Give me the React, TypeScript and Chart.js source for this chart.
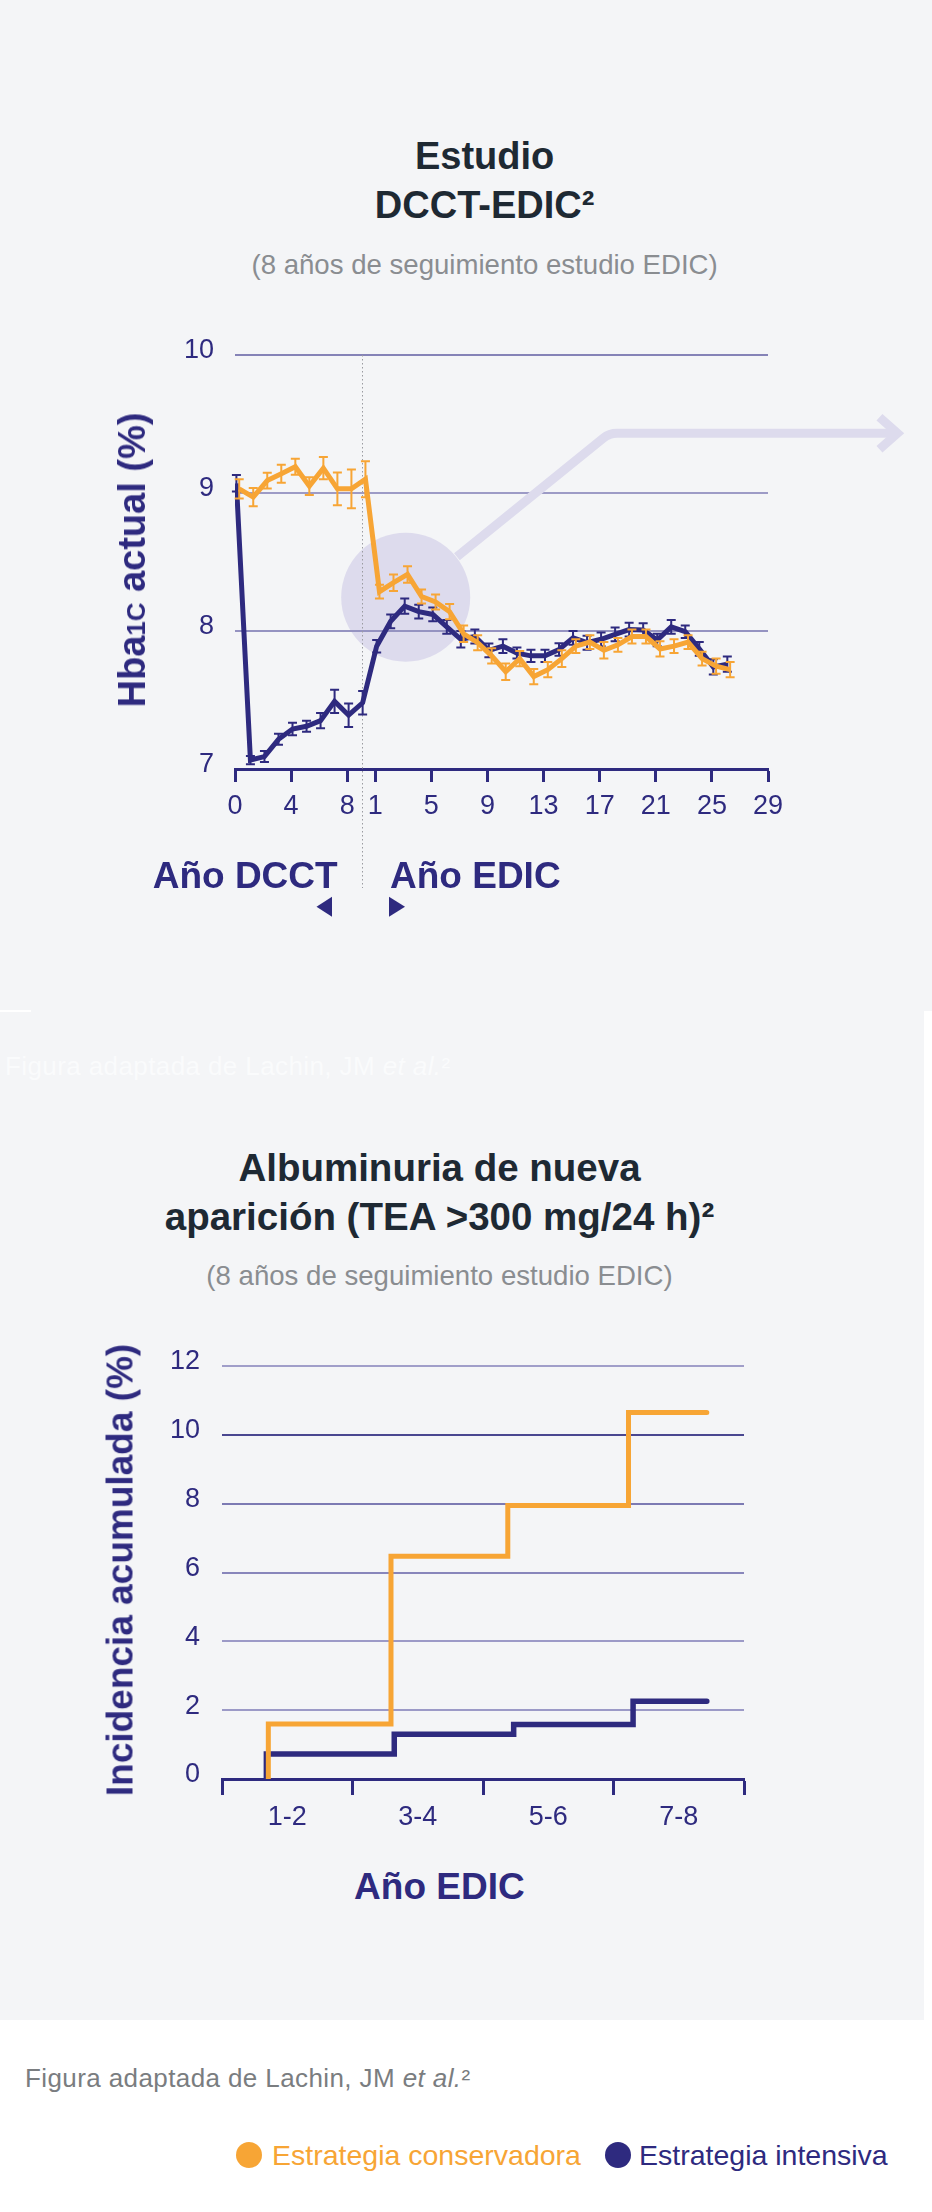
import React, { useEffect, useRef } from 'react';
import { Chart, registerables } from 'chart.js';

Chart.register(...registerables);

if (typeof document !== 'undefined') {
  document.body.style.margin = '0';
}

const ORANGE = '#F7A535';
const NAVY = '#2E2A7F';
const HIGHLIGHT = '#DDDBED';
const FONT = 'Liberation Sans, Arial, sans-serif';

// ---------- Top chart: HbA1c ----------
const dcctYears = [0, 1, 2, 3, 4, 5, 6, 7, 8, 9];
const edicYears = [1, 2, 3, 4, 5, 6, 7, 8, 9, 10, 11, 12, 13, 14, 15, 16, 17, 18, 19, 20, 21, 22, 23, 24, 25, 26];

const intensiveDcct = [9.07, 7.065, 7.09, 7.215, 7.29, 7.31, 7.35, 7.49, 7.39, 7.48];
const intensiveDcctErr = [0.06, 0.03, 0.04, 0.04, 0.045, 0.04, 0.055, 0.085, 0.085, 0.085];
const conservativeDcct = [9.03, 8.97, 9.09, 9.14, 9.19, 9.05, 9.18, 9.03, 9.03, 9.1];
const conservativeDcctErr = [0.07, 0.066, 0.057, 0.065, 0.058, 0.065, 0.08, 0.118, 0.14, 0.13];

const intensiveEdic = [7.89, 8.07, 8.18, 8.14, 8.12, 8.03, 7.94, 7.96, 7.86, 7.89, 7.84, 7.82, 7.82, 7.866, 7.95, 7.915, 7.94, 7.976, 8.01, 8.007, 7.935, 8.03, 7.995, 7.87, 7.74, 7.76];
const intensiveEdicErr = [0.045, 0.05, 0.055, 0.05, 0.05, 0.05, 0.06, 0.05, 0.05, 0.05, 0.04, 0.045, 0.045, 0.045, 0.05, 0.05, 0.05, 0.05, 0.05, 0.05, 0.045, 0.05, 0.045, 0.05, 0.055, 0.055];
const conservativeEdic = [8.285, 8.35, 8.41, 8.25, 8.21, 8.14, 7.98, 7.915, 7.82, 7.705, 7.8, 7.67, 7.72, 7.8, 7.89, 7.92, 7.86, 7.9, 7.96, 7.96, 7.87, 7.89, 7.92, 7.8, 7.745, 7.72];
const conservativeEdicErr = [0.05, 0.06, 0.06, 0.05, 0.055, 0.055, 0.06, 0.055, 0.055, 0.06, 0.055, 0.055, 0.055, 0.06, 0.05, 0.05, 0.06, 0.05, 0.05, 0.05, 0.055, 0.05, 0.05, 0.05, 0.055, 0.055];

const dcctTickLabels = [0, 4, 8];
const edicTickLabels = [1, 5, 9, 13, 17, 21, 25, 29];
const hbaTicks = [7, 8, 9, 10];

// axis mapping: DCCT year t -> t, EDIC year e -> EDIC_SHIFT + e (one blank year between)
const EDIC_SHIFT = 9;
const INTENSIVE_JITTER = 0.1;
const CONSERVATIVE_JITTER = 0.3;
const DIVIDER_POS = 9.07;

// ---------- Bottom chart: albuminuria ----------
const albCategories = ['1-2', '3-4', '5-6', '7-8'];
const albTicks = [0, 2, 4, 6, 8, 10, 12];
const conservativeStepYears = [0.71, 2.59, 4.38, 6.23];
const conservativeLevels = [1.6, 6.47, 7.95, 10.65];
const intensiveStepYears = [0.68, 2.64, 4.47, 6.3];
const intensiveLevels = [0.73, 1.3, 1.58, 2.26];
const followUpEnd = 7.43;

function seriesPoints(dcct: number[], edic: number[], jitter: number) {
  return [
    ...dcctYears.map((t, i) => ({ x: t + jitter, y: dcct[i] })),
    ...edicYears.map((e, i) => ({ x: EDIC_SHIFT + e + jitter, y: edic[i] })),
  ];
}

function stepPoints(times: number[], levels: number[]) {
  return [
    { x: times[0], y: 0 },
    ...times.map((t, i) => ({ x: t, y: levels[i] })),
    { x: followUpEnd, y: levels[levels.length - 1] },
  ];
}

const errorLists = [
  [...conservativeDcctErr, ...conservativeEdicErr],
  [...intensiveDcctErr, ...intensiveEdicErr],
];

const errorBarPlugin = {
  id: 'errorBars',
  afterDatasetDraw(chart: any, args: any) {
    const ds = chart.data.datasets[args.index];
    const errs = errorLists[args.index];
    if (!errs) return;
    const ctx = chart.ctx;
    const ys = chart.scales.y;
    ctx.save();
    ctx.strokeStyle = ds.borderColor;
    ctx.lineWidth = 2;
    args.meta.data.forEach((pt: any, i: number) => {
      const v = ds.data[i].y;
      const e = errs[i];
      const x = pt.x;
      const y1 = ys.getPixelForValue(v + e);
      const y2 = ys.getPixelForValue(v - e);
      ctx.beginPath();
      ctx.moveTo(x, y1);
      ctx.lineTo(x, y2);
      ctx.moveTo(x - 4.5, y1);
      ctx.lineTo(x + 4.5, y1);
      ctx.moveTo(x - 4.5, y2);
      ctx.lineTo(x + 4.5, y2);
      ctx.stroke();
    });
    ctx.restore();
  },
};

const highlightCenter = [12.17, 8.245];
const highlightRadius = 64.5;
const arrowPath = [
  [15.82, 8.538],
  [26.68, 9.433],
  [47.23, 9.433],
];

const topAnnotations = {
  id: 'topAnnotations',
  beforeDraw(chart: any) {
    const { ctx } = chart;
    const x = chart.scales.x;
    const y = chart.scales.y;
    ctx.save();
    ctx.fillStyle = HIGHLIGHT;
    ctx.beginPath();
    ctx.arc(x.getPixelForValue(highlightCenter[0]), y.getPixelForValue(highlightCenter[1]), highlightRadius, 0, Math.PI * 2);
    ctx.fill();
    ctx.restore();
  },
  beforeDatasetsDraw(chart: any) {
    const { ctx } = chart;
    const x = chart.scales.x;
    const y = chart.scales.y;
    const p = arrowPath.map(([a, b]) => [x.getPixelForValue(a), y.getPixelForValue(b)]);
    ctx.save();
    ctx.strokeStyle = HIGHLIGHT;
    ctx.lineWidth = 9;
    ctx.lineCap = 'butt';
    ctx.lineJoin = 'miter';
    ctx.beginPath();
    ctx.moveTo(p[0][0], p[0][1]);
    ctx.arcTo(p[1][0], p[1][1], p[2][0], p[2][1], 22);
    ctx.lineTo(p[2][0], p[2][1]);
    ctx.stroke();
    ctx.beginPath();
    ctx.moveTo(p[2][0] - 18, p[2][1] - 16);
    ctx.lineTo(p[2][0], p[2][1]);
    ctx.lineTo(p[2][0] - 18, p[2][1] + 16);
    ctx.stroke();
    // dotted divider between DCCT and EDIC
    const dx = Math.round(x.getPixelForValue(DIVIDER_POS)) + 0.5;
    ctx.strokeStyle = '#9A9BA0';
    ctx.lineWidth = 1;
    ctx.setLineDash([1.5, 2.5]);
    ctx.beginPath();
    ctx.moveTo(dx, y.getPixelForValue(10));
    ctx.lineTo(dx, chart.chartArea.bottom + 119);
    ctx.stroke();
    ctx.restore();
  },
};

const topGridColors: Record<number, string> = { 7: 'rgba(0,0,0,0)', 8: '#9593C1', 9: '#9D9BC6', 10: '#8583B7' };
const bottomGridColors: Record<number, string> = { 0: 'rgba(0,0,0,0)', 2: '#9C9AC7', 4: '#9C9AC7', 6: '#8886BB', 8: '#7C7AB3', 10: '#4A4790', 12: '#A09EC9' };

const tickFont = { family: FONT, size: 27 };

function HbaChart() {
  const ref = useRef<HTMLCanvasElement>(null);
  useEffect(() => {
    if (!ref.current) return;
    const chart = new Chart(ref.current, {
      type: 'line',
      data: {
        datasets: [
          {
            label: 'Estrategia conservadora',
            data: seriesPoints(conservativeDcct, conservativeEdic, CONSERVATIVE_JITTER),
            borderColor: ORANGE,
            backgroundColor: ORANGE,
            borderWidth: 5,
            pointRadius: 0,
            tension: 0,
            borderJoinStyle: 'miter',
          },
          {
            label: 'Estrategia intensiva',
            data: seriesPoints(intensiveDcct, intensiveEdic, INTENSIVE_JITTER),
            borderColor: NAVY,
            backgroundColor: NAVY,
            borderWidth: 5,
            pointRadius: 0,
            tension: 0,
            borderJoinStyle: 'miter',
          },
        ],
      },
      options: {
        animation: false,
        responsive: false,
        maintainAspectRatio: false,
        layout: { padding: { top: 55, right: 164, left: 0, bottom: 0 } },
        plugins: { legend: { display: false }, tooltip: { enabled: false } },
        scales: {
          x: {
            type: 'linear',
            min: 0,
            max: 38,
            afterBuildTicks: (s: any) => {
              s.ticks = [...dcctTickLabels, ...edicTickLabels.map((e) => EDIC_SHIFT + e)].map((v) => ({ value: v }));
            },
            afterFit: (s: any) => {
              s.height = 151;
            },
            grid: { drawOnChartArea: false, drawTicks: true, tickLength: 13, tickWidth: 3, tickColor: NAVY },
            border: { display: true, color: NAVY, width: 3 },
            ticks: {
              autoSkip: false,
              maxRotation: 0,
              padding: 8,
              color: NAVY,
              font: tickFont,
              callback: (v: any) => String(v <= 8 ? v : v - EDIC_SHIFT),
            },
          },
          y: {
            min: 7,
            max: 10,
            afterBuildTicks: (s: any) => {
              s.ticks = hbaTicks.map((v) => ({ value: v }));
            },
            afterFit: (s: any) => {
              s.width = 235;
            },
            grid: {
              drawTicks: false,
              lineWidth: 2,
              color: (c: any) => topGridColors[c.tick?.value] || '#9593C1',
            },
            border: { display: false },
            ticks: { padding: 21, labelOffset: -4, color: NAVY, font: tickFont },
          },
        },
      },
      plugins: [topAnnotations, errorBarPlugin],
    } as any);
    return () => chart.destroy();
  }, []);
  return (
    <canvas
      ref={ref}
      width={932}
      height={620}
      style={{ position: 'absolute', left: 0, top: 300, width: 932, height: 620 }}
    />
  );
}

function AlbChart() {
  const ref = useRef<HTMLCanvasElement>(null);
  useEffect(() => {
    if (!ref.current) return;
    const chart = new Chart(ref.current, {
      type: 'line',
      data: {
        datasets: [
          {
            label: 'Estrategia conservadora',
            data: stepPoints(conservativeStepYears, conservativeLevels),
            borderColor: ORANGE,
            borderWidth: 5,
            pointRadius: 0,
            stepped: 'before',
            borderCapStyle: 'round',
            borderJoinStyle: 'miter',
          },
          {
            label: 'Estrategia intensiva',
            data: stepPoints(intensiveStepYears, intensiveLevels),
            borderColor: NAVY,
            borderWidth: 5.5,
            pointRadius: 0,
            stepped: 'before',
            borderCapStyle: 'round',
            borderJoinStyle: 'miter',
          },
        ],
      },
      options: {
        animation: false,
        responsive: false,
        maintainAspectRatio: false,
        layout: { padding: { top: 66, right: 188, left: 0, bottom: 0 } },
        plugins: { legend: { display: false }, tooltip: { enabled: false } },
        scales: {
          x: {
            type: 'linear',
            min: 0,
            max: albCategories.length * 2,
            afterBuildTicks: (s: any) => {
              const t = [];
              for (let i = 0; i <= albCategories.length * 2; i++) t.push({ value: i });
              s.ticks = t;
            },
            afterFit: (s: any) => {
              s.height = 81;
            },
            grid: {
              drawOnChartArea: false,
              drawTicks: true,
              tickLength: 16,
              tickWidth: 3,
              tickColor: (c: any) => (c.tick && c.tick.value % 2 === 0 ? NAVY : 'rgba(0,0,0,0)'),
            },
            border: { display: true, color: NAVY, width: 3 },
            ticks: {
              autoSkip: false,
              maxRotation: 0,
              padding: 6,
              color: NAVY,
              font: tickFont,
              callback: (v: any) => (v % 2 === 1 ? albCategories[(v - 1) / 2] : ''),
            },
          },
          y: {
            min: 0,
            max: 12,
            afterBuildTicks: (s: any) => {
              s.ticks = albTicks.map((v) => ({ value: v }));
            },
            afterFit: (s: any) => {
              s.width = 222;
            },
            grid: {
              drawTicks: false,
              lineWidth: 2,
              color: (c: any) => bottomGridColors[c.tick?.value] || '#9C9AC7',
            },
            border: { display: false },
            ticks: { padding: 22, labelOffset: -4, color: NAVY, font: tickFont },
          },
        },
      },
    } as any);
    return () => chart.destroy();
  }, []);
  return (
    <canvas
      ref={ref}
      width={932}
      height={560}
      style={{ position: 'absolute', left: 0, top: 1300, width: 932, height: 560 }}
    />
  );
}

const abs = (s: React.CSSProperties): React.CSSProperties => ({ position: 'absolute', whiteSpace: 'nowrap', ...s });

export default function App() {
  useEffect(() => {
    document.body.style.margin = '0';
  }, []);
  return (
    <div style={{ position: 'relative', width: 932, height: 2212, background: '#FFFFFF', fontFamily: FONT, overflow: 'hidden' }}>
      <div style={abs({ left: 0, top: 0, width: 932, height: 1011, background: '#F4F5F7' })} />
      <div style={abs({ left: 0, top: 1011, width: 924, height: 1009, background: '#F4F5F7' })} />
      <div style={abs({ left: 0, top: 1010, width: 31, height: 2, background: '#FFFFFF' })} />

      {/* Top titles */}
      <div style={abs({ left: 484.6, top: 132.3, transform: 'translateX(-50%)', textAlign: 'center', fontSize: 38, fontWeight: 700, lineHeight: '49px', color: '#1E2933' })}>
        Estudio
        <br />
        DCCT-EDIC²
      </div>
      <div style={abs({ left: 484.6, top: 250.6, transform: 'translateX(-50%)', fontSize: 27.6, lineHeight: '27.6px', color: '#8A8D91' })}>
        (8 años de seguimiento estudio EDIC)
      </div>

      <HbaChart />

      <div style={abs({ left: 133.5, top: 559.5, transform: 'translate(-50%,-50%) rotate(-90deg)', fontSize: 38, fontWeight: 700, lineHeight: '38px', color: NAVY })}>
        Hba<span style={{ fontSize: '0.68em' }}>1C</span> actual (%)
      </div>

      <div style={abs({ left: 152.7, top: 857, fontSize: 37, fontWeight: 700, lineHeight: '37px', color: NAVY })}>Año DCCT</div>
      <div style={abs({ left: 390, top: 857, fontSize: 37, fontWeight: 700, lineHeight: '37px', color: NAVY })}>Año EDIC</div>
      <svg style={abs({ left: 0, top: 880, overflow: 'visible' })} width={932} height={60}>
        <polygon points="316.5,26.7 332,16.7 332,36.7" fill={NAVY} />
        <polygon points="405,26.7 389,16.7 389,36.7" fill={NAVY} />
      </svg>

      <div style={abs({ left: 5, top: 1053, fontSize: 26, lineHeight: '26px', color: '#FAFBFC', letterSpacing: 0.4 })}>
        Figura adaptada de Lachin, JM <i>et al.</i>²
      </div>

      {/* Bottom titles */}
      <div style={abs({ left: 439.5, top: 1143.2, transform: 'translateX(-50%)', textAlign: 'center', fontSize: 38.5, fontWeight: 700, lineHeight: '49px', color: '#1E2933' })}>
        Albuminuria de nueva
        <br />
        aparición (TEA &gt;300 mg/24 h)²
      </div>
      <div style={abs({ left: 439.5, top: 1261.6, transform: 'translateX(-50%)', fontSize: 27.6, lineHeight: '27.6px', color: '#8A8D91' })}>
        (8 años de seguimiento estudio EDIC)
      </div>

      <AlbChart />

      <div style={abs({ left: 119.5, top: 1570, transform: 'translate(-50%,-50%) rotate(-90deg)', fontSize: 37, fontWeight: 700, lineHeight: '37px', color: NAVY })}>
        Incidencia acumulada (%)
      </div>
      <div style={abs({ left: 439.4, top: 1867.7, transform: 'translateX(-50%)', fontSize: 37, fontWeight: 700, lineHeight: '37px', color: NAVY })}>
        Año EDIC
      </div>

      {/* Footer */}
      <div style={abs({ left: 25, top: 2065, fontSize: 26, lineHeight: '26px', color: '#7A7D80', letterSpacing: 0.4 })}>
        Figura adaptada de Lachin, JM <i>et al.</i>²
      </div>
      <div style={abs({ left: 236, top: 2142, width: 26, height: 26, borderRadius: '50%', background: ORANGE })} />
      <div style={abs({ left: 272, top: 2140.9, fontSize: 28.5, lineHeight: '28.5px', color: ORANGE })}>Estrategia conservadora</div>
      <div style={abs({ left: 605, top: 2142, width: 26, height: 26, borderRadius: '50%', background: NAVY })} />
      <div style={abs({ left: 639, top: 2140.9, fontSize: 28.5, lineHeight: '28.5px', color: NAVY })}>Estrategia intensiva</div>
    </div>
  );
}
